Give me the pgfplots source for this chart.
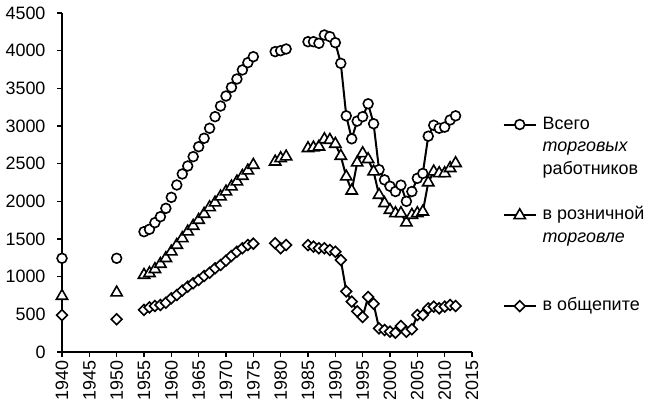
\documentclass[border=0pt]{standalone}
\usepackage{fontspec}
\setmainfont{Liberation Sans}
\usepackage{pgfplots}
\pgfplotsset{compat=1.18}
\begin{document}
\begin{tikzpicture}
\useasboundingbox (0,0) rectangle (647bp,416bp);
\begin{axis}[
  at={(62bp,64bp)}, anchor=south west,
  width=410bp, height=339bp, scale only axis,
  xmin=1940, xmax=2015, ymin=0, ymax=4500,
  xtick={1940,1945,...,2015}, ytick={0,500,...,4500},
  axis lines*=left,
  axis line style={line width=1.6bp, black},
  tick style={line width=1.6bp, black},
  major tick length=5bp, tick align=outside,
  /pgf/number format/1000 sep={},
  /pgf/number format/assume math mode=true,
  xticklabel style={rotate=90, anchor=east, xshift=0bp, font=\fontsize{18}{18}\selectfont},
  yticklabel style={anchor=east, xshift=-8bp, font=\fontsize{18}{18}\selectfont},
  clip=false,
  legend cell align={left},
  legend style={at={(1.075,0.699)}, anchor=north west, draw=none, fill=none,
    inner sep=0pt, outer sep=0pt, row sep=3.7bp, column sep=6bp,
    font=\fontsize{18}{18}\selectfont,
    nodes={inner sep=0pt, text height=14bp, text depth=5bp}},
  legend image code/.code={\draw[mark repeat=2,mark phase=2,#1] plot coordinates {(0bp,0bp) (16bp,0bp) (32bp,0bp)};},
]
% total
\addplot[only marks, mark=*, mark size=4.9bp, mark options={fill=white, draw=black, line width=1.6bp}, forget plot] coordinates {
(1940,1244) (1950,1244)
(1955,1597) (1956,1629) (1957,1717) (1958,1796) (1959,1907) (1960,2053) (1961,2217) (1962,2363) (1963,2469) (1964,2593) (1965,2725) (1966,2837) (1967,2970) (1968,3124) (1969,3265) (1970,3398) (1971,3513) (1972,3624) (1973,3744) (1974,3841) (1975,3920)
(1979,3987) (1980,4000) (1981,4022)
};
% retail
\addplot[only marks, mark=triangle*, mark size=6.5bp, mark options={fill=white, draw=black, line width=1.6bp}, forget plot] coordinates {
(1940,743) (1950,788)
(1955,1022) (1956,1045) (1957,1098) (1958,1168) (1959,1244) (1960,1332) (1961,1420) (1962,1509) (1963,1597) (1964,1673) (1965,1752) (1966,1832) (1967,1920) (1968,1982) (1969,2062) (1970,2128) (1971,2195) (1972,2261) (1973,2336) (1974,2407) (1975,2482)
(1979,2526) (1980,2571) (1981,2593)
};
% catering
\addplot[only marks, mark=square*, mark size=3.8bp, mark options={fill=white, draw=black, line width=1.6bp, rotate=45}, forget plot] coordinates {
(1940,491) (1950,434)
(1955,558) (1956,593) (1957,611) (1958,624) (1959,655) (1960,713) (1961,757) (1962,814) (1963,867) (1964,912) (1965,956) (1966,1009) (1967,1053) (1968,1111) (1969,1155) (1970,1212) (1971,1274) (1972,1331) (1973,1377) (1974,1420) (1975,1438)
(1979,1443) (1980,1377) (1981,1420)
};
% lines
\addplot[black, line width=2bp, mark=*, mark size=4.9bp, mark options={fill=white, draw=black, line width=1.6bp}] coordinates {
(1985,4119) (1986,4119) (1987,4098) (1988,4208) (1989,4186) (1990,4106) (1991,3832) (1992,3135) (1993,2830) (1994,3065) (1995,3124) (1996,3295) (1997,3030) (1998,2420) (1999,2285) (2000,2200) (2001,2130) (2002,2215) (2003,2000) (2004,2130) (2005,2305) (2006,2370) (2007,2865) (2008,3010) (2009,2970) (2010,2985) (2011,3080) (2012,3135)
};
\addlegendentry{Всего}
\addlegendimage{empty legend}\addlegendentry{\textit{торговых}}
\addlegendimage{empty legend}\addlegendentry{работников}
\addlegendimage{empty legend}\addlegendentry{}
\addplot[black, line width=2bp, mark=triangle*, mark size=6.5bp, mark options={fill=white, draw=black, line width=1.6bp}] coordinates {
(1985,2704) (1986,2712) (1987,2725) (1988,2823) (1989,2814) (1990,2761) (1991,2602) (1992,2327) (1993,2141) (1994,2513) (1995,2637) (1996,2558) (1997,2394) (1998,2084) (1999,1974) (2000,1885) (2001,1841) (2002,1841) (2003,1717) (2004,1819) (2005,1841) (2006,1862) (2007,2250) (2008,2394) (2009,2372) (2010,2372) (2011,2439) (2012,2505)
};
\addlegendentry{в розничной}
\addlegendimage{empty legend}\addlegendentry{\textit{торговле}}
\addlegendimage{empty legend}\addlegendentry{}
\addlegendimage{empty legend}\addlegendentry{}
\addplot[black, line width=2bp, mark=square*, mark size=3.8bp, mark options={fill=white, draw=black, line width=1.6bp, rotate=45}] coordinates {
(1985,1420) (1986,1398) (1987,1377) (1988,1377) (1989,1354) (1990,1331) (1991,1221) (1992,805) (1993,668) (1994,540) (1995,465) (1996,730) (1997,640) (1998,314) (1999,292) (2000,270) (2001,256) (2002,345) (2003,270) (2004,301) (2005,491) (2006,491) (2007,580) (2008,602) (2009,580) (2010,602) (2011,624) (2012,611)
};
\addlegendentry{в общепите}
\end{axis}
\end{tikzpicture}
\end{document}
